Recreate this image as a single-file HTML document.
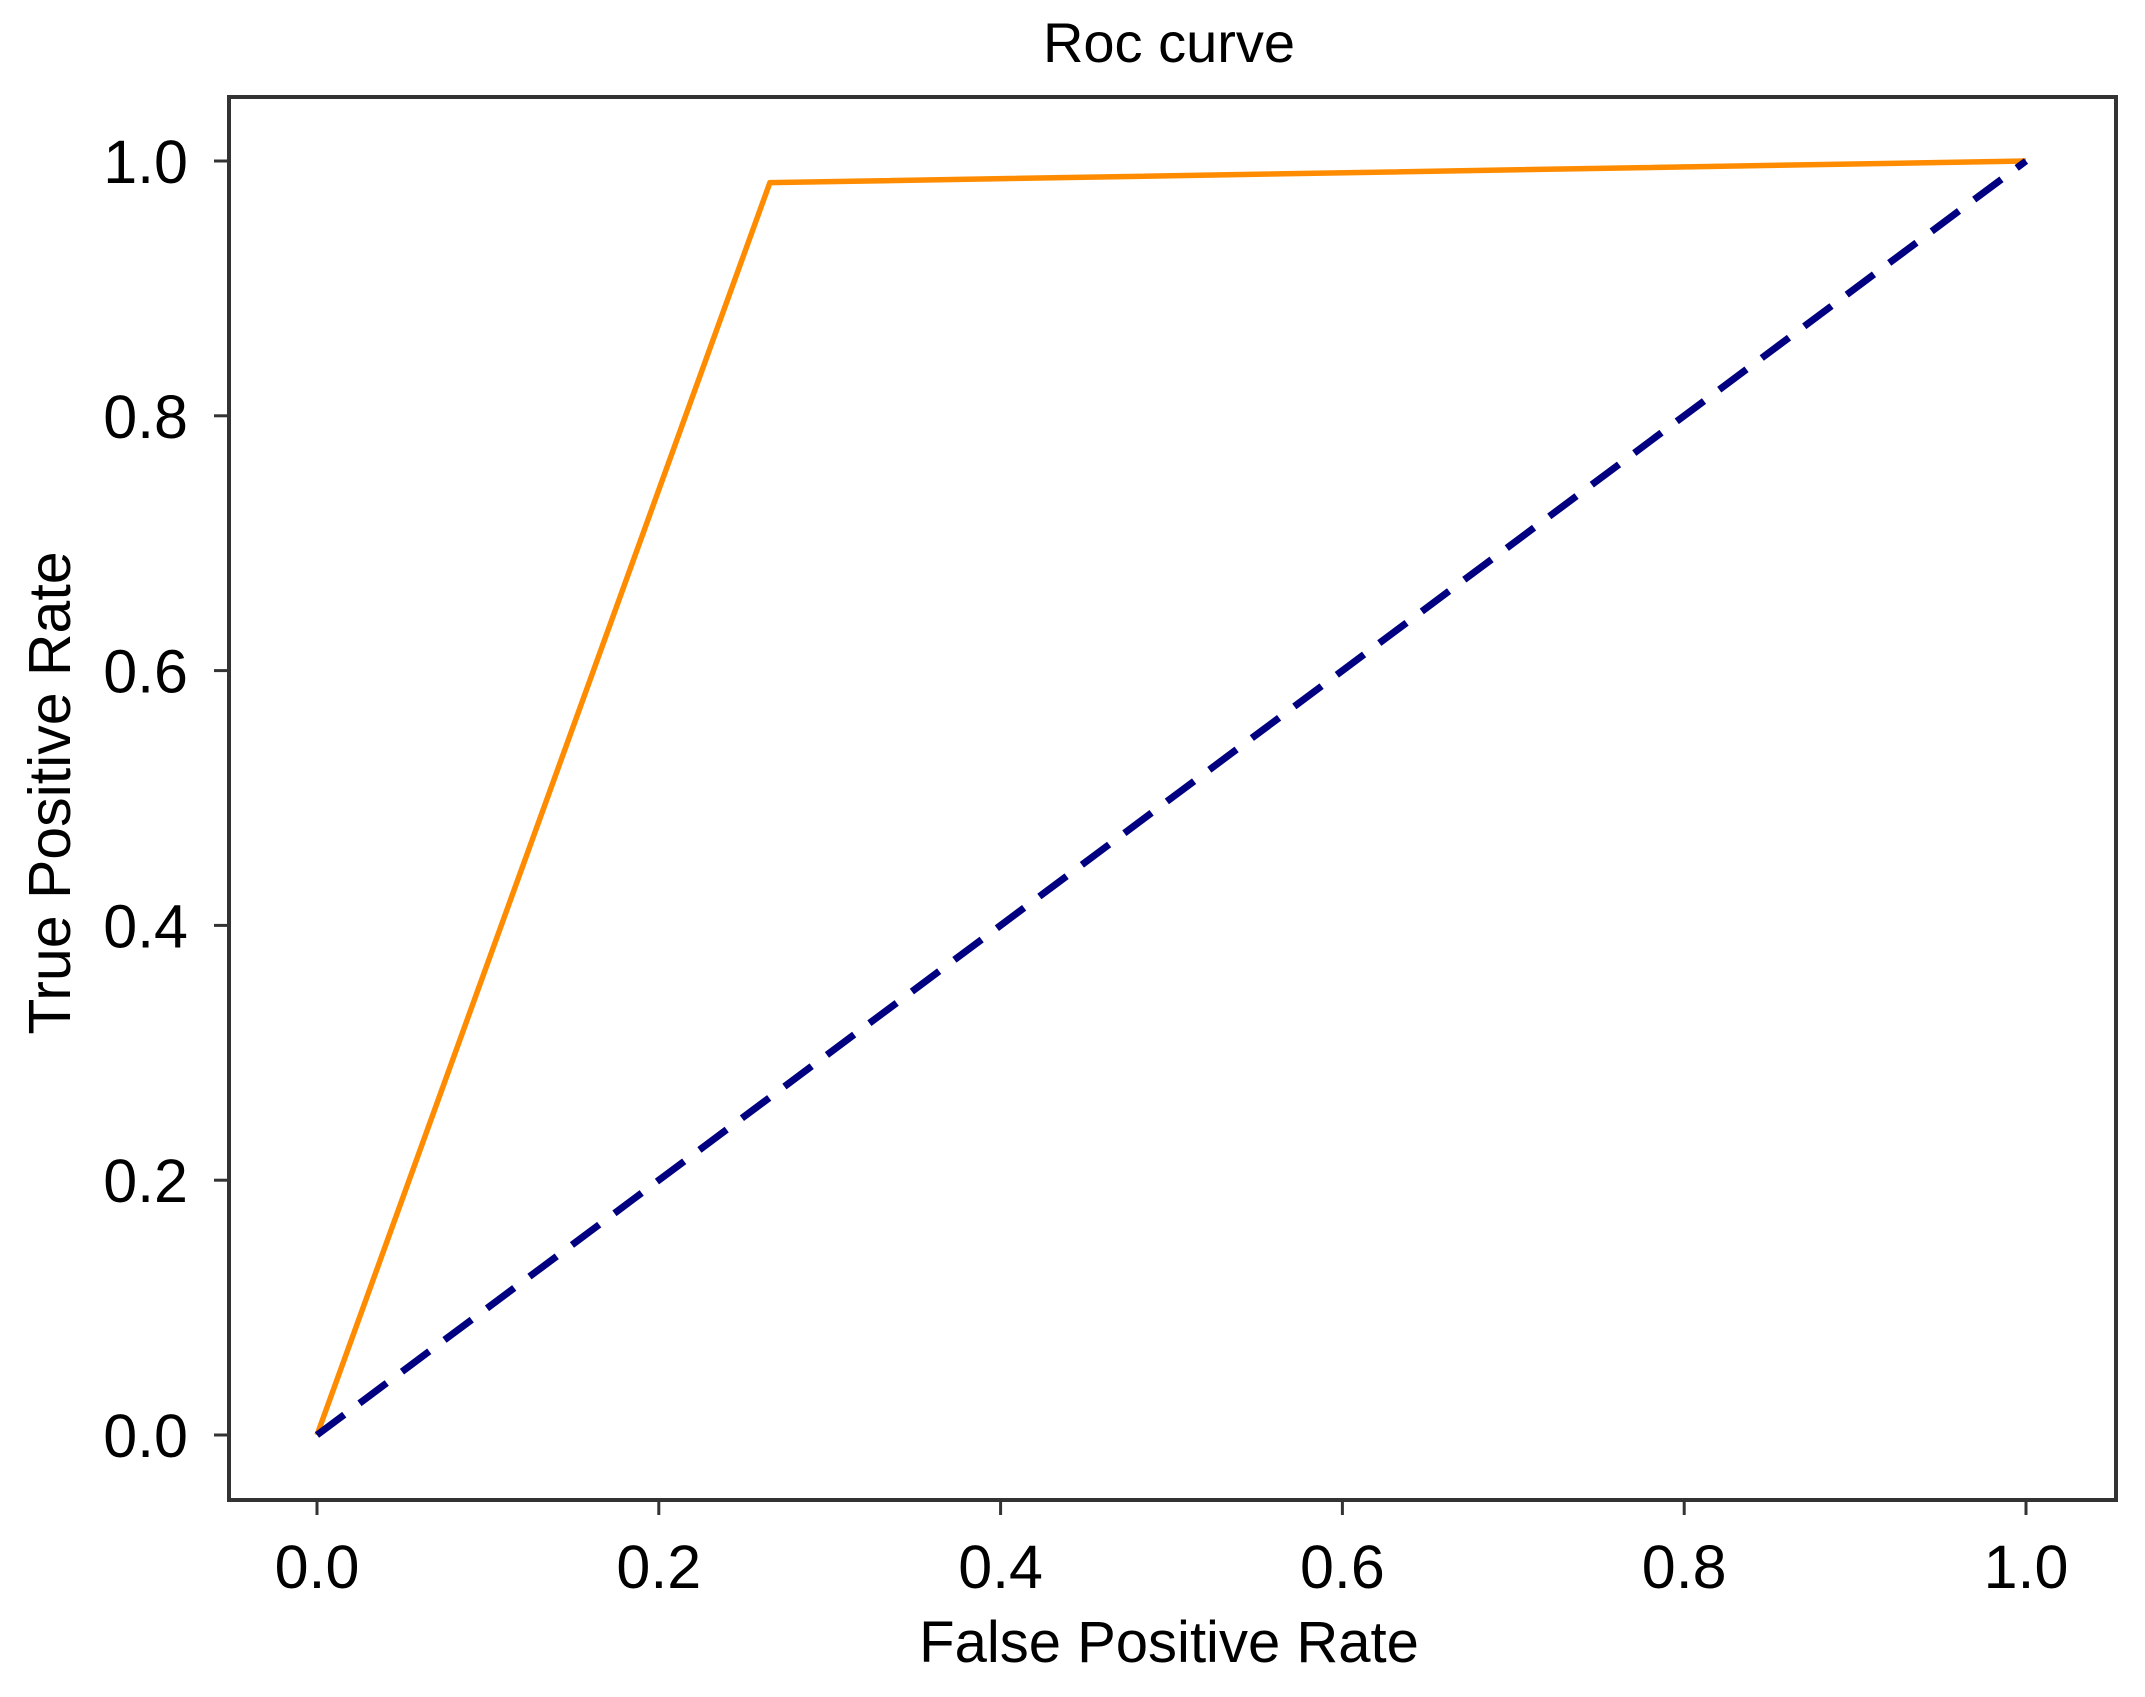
<!DOCTYPE html>
<html><head><meta charset="utf-8"><style>
html,body{margin:0;padding:0;background:#fff;}
svg{display:block;font-family:"Liberation Sans",Arial,sans-serif;}
</style></head><body>
<svg id="chart" width="2145" height="1697" viewBox="0 0 2145 1697">
<text x="1169" y="62" font-size="56" text-anchor="middle" fill="#000">Roc curve</text>
<g id="ticks"></g>
<g id="series"></g>
<rect x="229" y="97" width="1887" height="1403" fill="none" stroke="#333" stroke-width="4"/>
<text x="1169" y="1662" font-size="58" text-anchor="middle" fill="#000">False Positive Rate</text>
<text transform="translate(70,793) rotate(-90)" font-size="59" text-anchor="middle" fill="#000">True Positive Rate</text>
</svg>
<script>
const xTicks=[0,0.2,0.4,0.6,0.8,1.0];
const yTicks=[0,0.2,0.4,0.6,0.8,1.0];
const tickLabels=["0.0","0.2","0.4","0.6","0.8","1.0"];
const rocFpr=[0,0.265,1.0];
const rocTpr=[0,0.983,1.0];
const chanceFpr=[0,1];
const chanceTpr=[0,1];
const NS='http://www.w3.org/2000/svg';
function sx(v){return 317+v*(2026-317);}
function sy(v){return 1435-v*(1435-161);}
function mk(tag,attrs,parent){const e=document.createElementNS(NS,tag);for(const k in attrs)e.setAttribute(k,attrs[k]);parent.appendChild(e);return e;}
const tg=document.getElementById('ticks');
xTicks.forEach((v,i)=>{
  const l=mk('line',{x1:sx(v),x2:sx(v),y1:1500,y2:1515,stroke:'#333','stroke-width':3},tg);
  
  
  const t=mk('text',{x:sx(v),y:1588,'font-size':61,'text-anchor':'middle',fill:'#000'},tg);
  t.textContent=tickLabels[i];
  
  
});
yTicks.forEach((v,i)=>{
  const l=mk('line',{x1:214,x2:229,y1:sy(v),y2:sy(v),stroke:'#333','stroke-width':3},tg);
  
  
  const t=mk('text',{x:188,y:sy(v)+22,'font-size':61,'text-anchor':'end',fill:'#000'},tg);
  t.textContent=tickLabels[i];
  
  
});
const sg=document.getElementById('series');
const roc=mk('polyline',{points:rocFpr.map((v,i)=>sx(v)+','+sy(rocTpr[i])).join(' '),fill:'none',stroke:'#ff8c00','stroke-width':5.5,'stroke-linejoin':'round'},sg);


const ch=mk('polyline',{points:chanceFpr.map((v,i)=>sx(v)+','+sy(chanceTpr[i])).join(' '),fill:'none',stroke:'#000080','stroke-width':7,'stroke-dasharray':'34 19'},sg);


</script>
</body></html>
